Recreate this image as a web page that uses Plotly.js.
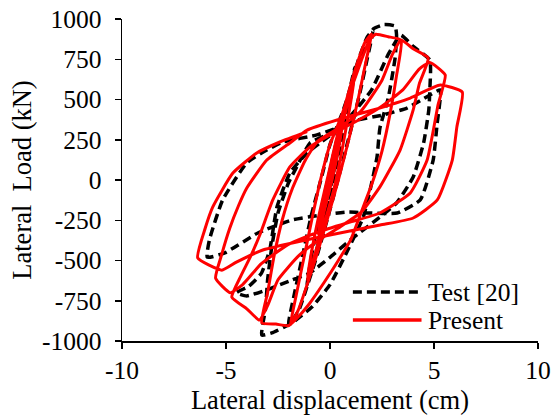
<!DOCTYPE html>
<html>
<head>
<meta charset="utf-8">
<script src="https://cdn.plot.ly/plotly-3.0.1.min.js"></script>
<style>html,body{margin:0;padding:0;background:#fff;}#chart{width:559px;height:419px;}</style>
</head>
<body>
<div id="chart"></div>
<script>
// ---- Present (numerical model) cycles: displacement (cm), load (kN)
const present_c1_x = [0, 0.35, 0.6, 0.45, 0.1, -0.25, -0.55, -0.4, -0.05, 0.2];
const present_c1_y = [0, 200, 350, 220, 0, -180, -340, -200, 0, 150];
const present_c2_x = [0.7, 1.2, 0.95, 0.6, 0.2, -0.3, -0.7, -1.1, -0.85, -0.5, -0.05, 0.3];
const present_c2_y = [400, 650, 450, 200, -50, -280, -450, -620, -420, -200, 50, 250];
const present_c3_x = [0.8, 1.3, 1.7, 2.0, 1.75, 1.35, 0.9, 0.4, -0.1, -0.6, -1.1, -1.5, -1.9, -1.6, -1.2, -0.8, -0.4, 0];
const present_c3_y = [500, 720, 860, 907, 750, 500, 250, 0, -230, -450, -650, -800, -900, -700, -450, -200, 30, 220];
const present_c4_x = [0.5, 1.0, 1.5, 1.9, 2.2, 2.8, 3.42, 3.2, 2.9, 2.5, 2.0, 1.5, 1.0, 0.4, -0.3, -1.0, -1.6, -2.0, -2.6, -3.28, -3.0, -2.7, -2.3, -1.8, -1.2, -0.6];
const present_c4_y = [380, 560, 740, 870, 905, 890, 869, 650, 420, 180, -30, -200, -370, -500, -640, -770, -860, -905, -895, -888, -700, -480, -250, -50, 120, 240];
const present_c5_x = [0.5, 1.5, 2.5, 3.0, 3.42, 4.0, 4.72, 4.3, 4.0, 3.37, 2.4, 1.5, 0.5, -0.5, -1.5, -2.5, -3.0, -3.4, -4.0, -4.72, -4.3, -3.8, -3.37, -2.75, -1.93, -0.96];
const present_c5_y = [330, 430, 620, 780, 869, 815, 758, 600, 435, 186, -43, -200, -290, -370, -470, -620, -780, -870, -800, -727, -600, -470, -340, -124, 81, 205];
const present_c6_x = [0, 1.2, 2.4, 3.5, 4.3, 4.8, 5.54, 5.2, 4.67, 3.86, 2.4, 1.0, -0.5, -2.0, -3.3, -4.2, -4.8, -5.5, -5.2, -4.82, -4.4, -4.0, -3.04, -1.93];
const present_c6_y = [280, 360, 450, 560, 690, 730, 652, 470, 124, -80, -205, -260, -320, -400, -520, -650, -700, -610, -460, -300, -160, -50, 124, 230];
const present_c7_x = [-1.1, 0.34, 2.07, 3.86, 5.3, 6.36, 6.1, 5.88, 5.16, 4.0, 2.41, -0.48, -3.23, -4.5, -5.2, -6.36, -6.0, -5.64, -4.67, -3.52, -2.41, -1.1];
const present_c7_y = [310, 373, 435, 509, 590, 546, 330, 124, -124, -236, -280, -354, -435, -510, -560, -484, -300, -168, 43, 168, 236, 300];

// ---- Test [20] cycles
const test_c1_x = [0, 0.35, 0.6, 0.4, 0.1, -0.2, -0.5, -0.35, 0, 0.25];
const test_c1_y = [0, 220, 350, 200, 0, -180, -330, -180, 50, 200];
const test_c2_x = [0.75, 1.2, 0.95, 0.55, 0.1, -0.35, -0.75, -1.1, -0.85, -0.45, 0, 0.35];
const test_c2_y = [450, 700, 480, 220, -50, -300, -480, -650, -440, -200, 60, 260];
const test_c3_x = [0.9, 1.4, 1.8, 2.07, 1.8, 1.4, 0.9, 0.4, -0.1, -0.6, -1.1, -1.5, -2.0, -1.7, -1.3, -0.9, -0.4, 0];
const test_c3_y = [540, 760, 890, 932, 760, 520, 260, 10, -230, -460, -660, -810, -900, -700, -460, -220, 20, 220];
const test_c4_x = [0.6, 1.2, 1.7, 2.1, 2.6, 3.13, 3.2, 3.13, 2.8, 2.4, 2.26, 1.93, 1.6, 0.8, 0, -0.87, -1.83, -2.8, -3.28, -3.1, -3.0, -2.8, -2.5, -2.0, -1.6, -0.96];
const test_c4_y = [420, 650, 850, 940, 965, 956, 900, 758, 509, 323, 143, -62, -230, -450, -650, -789, -888, -950, -963, -800, -621, -416, -205, -19, 81, 230];
const test_c5_x = [0, 1.0, 2.0, 2.8, 3.4, 4.0, 4.8, 4.8, 4.75, 4.5, 4.0, 3.2, 2.4, 1.0, 0, -1.0, -1.83, -3.0, -4.0, -4.5, -3.9, -3.3, -2.9, -2.55, -1.93, -1.1, -0.48];
const test_c5_y = [290, 400, 560, 780, 900, 830, 745, 560, 435, 230, 19, -143, -230, -370, -480, -580, -621, -680, -720, -700, -660, -580, -435, -168, 43, 168, 230];
const test_c6_x = [0.96, 2.55, 3.7, 4.7, 5.3, 5.15, 4.96, 4.34, 3.23, 2.0, 0.87, -0.39, -1.83, -3.47, -5.06, -5.9, -5.8, -5.16, -4.0, -3.04, -2.27, -0.63, 0.5];
const test_c6_y = [360, 404, 447, 520, 559, 350, 124, -124, -205, -205, -199, -217, -248, -329, -453, -480, -373, -124, 106, 186, 236, 280, 330];

// ---- axis ticks and legend labels
const xTicks = [-10, -5, 0, 5, 10];
const yTicks = [-1000, -750, -500, -250, 0, 250, 500, 750, 1000];
const seriesNames = ['Test [20]', 'Present'];

const presentX = [].concat(present_c1_x, present_c2_x, present_c3_x, present_c4_x, present_c5_x, present_c6_x, present_c7_x);
const presentY = [].concat(present_c1_y, present_c2_y, present_c3_y, present_c4_y, present_c5_y, present_c6_y, present_c7_y);
const testX = [].concat(test_c1_x, test_c2_x, test_c3_x, test_c4_x, test_c5_x, test_c6_x);
const testY = [].concat(test_c1_y, test_c2_y, test_c3_y, test_c4_y, test_c5_y, test_c6_y);

const FONT = 'Liberation Serif, Times New Roman, serif';
const FS = 25.5;
const TFS = 26.5;

const testLine = {color: '#000000', width: 3.5, dash: '9px,5px'};
const presentLine = {color: '#ff0000', width: 3.5};

const traces = [
  {x: testX, y: testY, mode: 'lines', name: seriesNames[0], showlegend: false,
   line: {color: testLine.color, width: testLine.width, dash: testLine.dash, shape: 'spline', smoothing: 0.45}},
  {x: presentX, y: presentY, mode: 'lines', name: seriesNames[1], showlegend: false,
   line: {color: presentLine.color, width: 3, shape: 'spline', smoothing: 0.45}}
];

// legend drawn in plot-area fractions (paper coords)
const L = {x0: 0.555, x1: 0.72, xt: 0.73, y1: 0.152, y2: 0.065};

const layout = {
  width: 559, height: 419,
  margin: {l: 122, r: 21, t: 19, b: 78},
  paper_bgcolor: '#ffffff', plot_bgcolor: '#ffffff',
  font: {family: FONT, size: FS, color: '#000000'},
  showlegend: false,
  shapes: [
    {type: 'line', xref: 'paper', yref: 'paper', x0: L.x0, x1: L.x1, y0: L.y1, y1: L.y1, line: testLine},
    {type: 'line', xref: 'paper', yref: 'paper', x0: L.x0, x1: L.x1, y0: L.y2, y1: L.y2, line: presentLine}
  ],
  annotations: [
    {xref: 'paper', yref: 'paper', x: L.xt, y: L.y1, xanchor: 'left', yanchor: 'middle', showarrow: false,
     text: seriesNames[0], font: {family: FONT, size: FS, color: '#000'}},
    {xref: 'paper', yref: 'paper', x: L.xt, y: L.y2, xanchor: 'left', yanchor: 'middle', showarrow: false,
     text: seriesNames[1], font: {family: FONT, size: FS, color: '#000'}}
  ],
  xaxis: {range: [-10, 10], tickvals: xTicks, ticktext: xTicks.map(String),
          showgrid: false, zeroline: false, showline: true, linecolor: '#000', linewidth: 1.5,
          ticks: 'outside', ticklen: 6, tickwidth: 1.5, tickcolor: '#000', ticklabelstandoff: 0,
          tickfont: {family: FONT, size: FS},
          title: {text: 'Lateral displacement (cm)', font: {family: FONT, size: TFS}, standoff: 0}},
  yaxis: {range: [-1000, 1000], tickvals: yTicks, ticktext: yTicks.map(String),
          showgrid: false, zeroline: false, showline: true, linecolor: '#000', linewidth: 1.5,
          ticks: 'outside', ticklen: 6, tickwidth: 1.5, tickcolor: '#000', ticklabelstandoff: 8,
          tickfont: {family: FONT, size: FS},
          title: {text: 'Lateral\u00a0 Load (kN)', font: {family: FONT, size: TFS}, standoff: 2}}
};

Plotly.newPlot('chart', traces, layout, {displayModeBar: false, staticPlot: true});
</script>
</body>
</html>
